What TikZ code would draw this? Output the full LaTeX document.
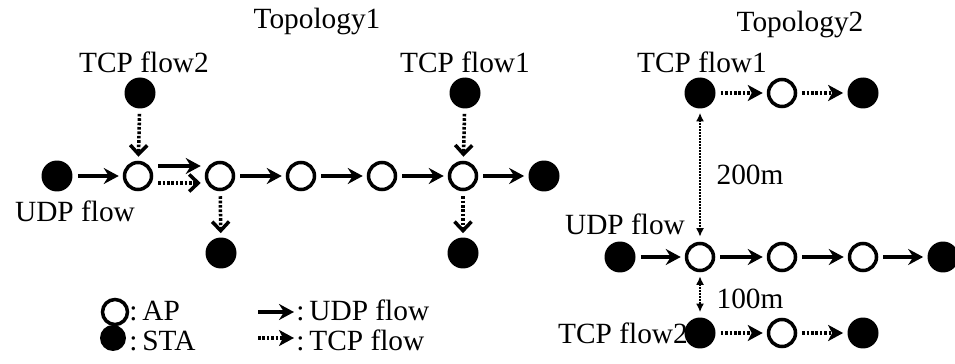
\documentclass[tikz,border=0pt]{standalone}
\usepackage{fontspec}
\setmainfont{Liberation Serif}
\usetikzlibrary{arrows.meta}
\tikzset{
  ap/.style={circle,draw,line width=2pt,minimum size=0.54cm,inner sep=0pt},
  sta/.style={circle,fill,minimum size=0.62cm,inner sep=0pt},
  udp/.style={line width=2pt,-{Stealth[length=0.3cm,width=0.32cm,inset=0.1cm]},
    shorten <=0.1cm,shorten >=0.08cm},
  tcp/.style={line width=2pt,dash pattern=on 1.5pt off 1pt,
    -{Straight Barb[length=0.18cm,width=0.34cm]},
    shorten <=0.1cm,shorten >=0.08cm},
  tcpfill/.style={tcp,-{Stealth[length=0.3cm,width=0.32cm,inset=0.08cm]}},
  dist/.style={line width=1.3pt,dash pattern=on 1pt off 0.7pt,
    {Latex[length=0.17cm,width=0.16cm]}-{Latex[length=0.17cm,width=0.16cm]},
    shorten <=0.08cm,shorten >=0.1cm},
  lbl/.style={inner sep=0pt,anchor=base}
}
\begin{document}
\begin{tikzpicture}[x=0.02cm,y=-0.02cm,font=\fontsize{16.7}{18}\selectfont]
  \useasboundingbox (0,0) rectangle (955,364);
  % Topology1
  \draw
    (57,176) node[sta] (s1){}
    (138,176) node[ap] (a1){}
    (220,176) node[ap] (a2){}
    (301,176) node[ap] (a3){}
    (382,176) node[ap] (a4){}
    (463,176) node[ap] (a5){}
    (544,176) node[sta] (s2){}
    (140,93) node[sta] (top2){}
    (221,253) node[sta] (bot2){}
    (465,93) node[sta] (top1){}
    (463,253) node[sta] (bot1){};
  \draw
    (317,29) node[lbl] (title1){Topology1}
    (144,73) node[lbl] (lflow2){TCP flow2}
    (465,73) node[lbl] (lflow1){TCP flow1}
    (75,222) node[lbl] (ludp){UDP flow};
  \begin{scope}[udp]
    \draw (s1) to (a1);
    \draw ([yshift=0.2cm]a1.east) to ([yshift=0.2cm]a2.west);
    \draw (a2) to (a3);
    \draw (a3) to (a4);
    \draw (a4) to (a5);
    \draw (a5) to (s2);
  \end{scope}
  \begin{scope}[tcp]
    \draw ([yshift=-0.14cm]a1.east) to ([yshift=-0.14cm]a2.west);
    \draw (top2) to (a1);
    \draw (a2) to (bot2);
    \draw (top1) to (a5);
    \draw (a5) to (bot1);
  \end{scope}
  % Topology2
  \draw
    (620,257) node[sta] (u0){}
    (700,257) node[ap] (u1){}
    (782,257) node[ap] (u2){}
    (863,257) node[ap] (u3){}
    (943,257) node[sta] (u4){}
    (700,93) node[sta] (p0){}
    (782,93) node[ap] (p1){}
    (863,93) node[sta] (p2){}
    (700,333) node[sta] (q0){}
    (782,333) node[ap] (q1){}
    (863,333) node[sta] (q2){};
  \draw
    (800,32) node[lbl] (title2){Topology2}
    (702,73) node[lbl] (mflow1){TCP flow1}
    (625,235) node[lbl] (mudp){UDP flow}
    (750,185) node[lbl] (d200){200m}
    (750,308) node[lbl] (d100){100m}
    (623,343) node[lbl] (mflow2){TCP flow2};
  \begin{scope}[udp]
    \draw (u0) to (u1);
    \draw (u1) to (u2);
    \draw (u2) to (u3);
    \draw (u3) to (u4);
  \end{scope}
  \begin{scope}[tcpfill]
    \draw (p0) to (p1);
    \draw (p1) to (p2);
    \draw (q0) to (q1);
    \draw (q1) to (q2);
  \end{scope}
  \draw[dist] (p0) to (u1);
  \draw[dist] (u1) to (q0);
  % legend
  \draw
    (115,312) node[ap,minimum size=0.5cm] (kap){}
    (113,338) node[sta,minimum size=0.52cm] (ksta){}
    (129,320) node[lbl,anchor=base west] (kaptxt){:\,AP}
    (129,350) node[lbl,anchor=base west] (kstatxt){:\,STA}
    (296,320) node[lbl,anchor=base west] (kudptxt){:\,UDP flow}
    (296,350) node[lbl,anchor=base west] (ktcptxt){:\,TCP flow};
  \coordinate (ku0) at (258,312);
  \coordinate (ku1) at (294,312);
  \coordinate (kt0) at (258,338);
  \coordinate (kt1) at (294,338);
  \draw[udp,shorten <=0pt,shorten >=0pt] (ku0) to (ku1);
  \draw[tcpfill,shorten <=0pt,shorten >=0pt] (kt0) to (kt1);
\end{tikzpicture}
\end{document}
